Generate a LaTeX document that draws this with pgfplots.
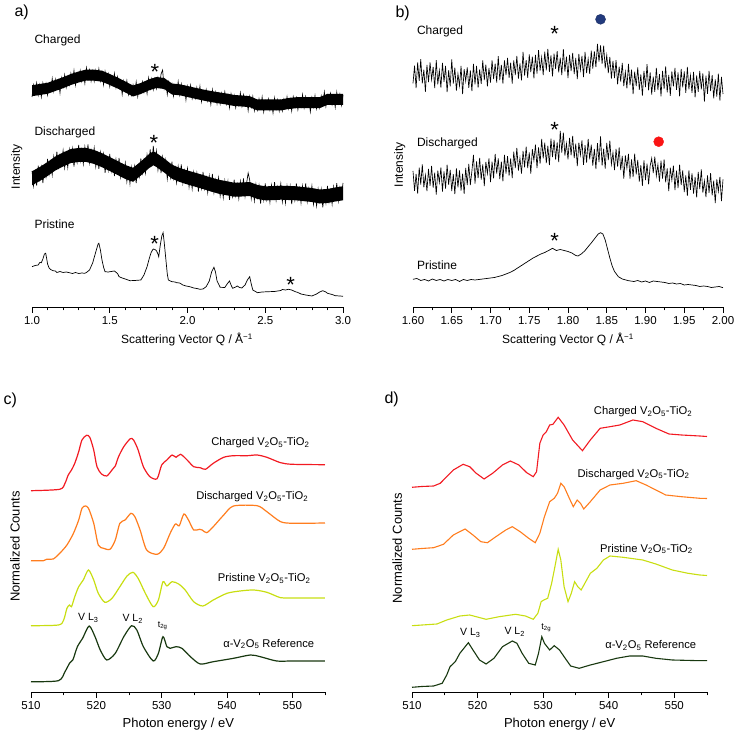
\documentclass[border=0pt]{standalone}
\usepackage{fontspec}
\setmainfont{Liberation Sans}
\usepackage{pgfplots}
\pgfplotsset{compat=1.18}
\definecolor{cred}{RGB}{242,26,34}
\definecolor{corange}{RGB}{255,125,30}
\definecolor{cyg}{RGB}{200,222,18}
\definecolor{cdg}{RGB}{24,56,16}
\definecolor{cnavy}{RGB}{34,58,125}
\definecolor{cdot}{RGB}{250,20,20}
\pgfplotsset{
  panel/.style={scale only axis, clip=false, axis x line=bottom, axis y line=none, ytick=\empty,
    x axis line style={-, line width=0.8pt}, tick align=outside,
    major tick length=6pt, minor tick length=3.5pt,
    every tick/.style={black, line width=0.8pt},
    ticklabel style={font=\fontsize{11.5}{13}\selectfont},
    /pgf/number format/assume math mode=true,
    y filter/.expression={733-y}},
}
\begin{document}
\begin{tikzpicture}[x=1pt,y=1pt]
\useasboundingbox (0,0) rectangle (736,733);
% ---------------- panel a
\begin{axis}[panel, at={(32pt,426pt)}, anchor=south west, width=311pt, height=287pt,
  xmin=1, xmax=3, ymin=426, ymax=713, xtick={1,1.5,2,2.5,3}, minor tick num=4,
  xticklabel style={/pgf/number format/fixed, /pgf/number format/fixed zerofill, /pgf/number format/precision=1}]
% charged core band
\addplot[fill=black, draw=none] coordinates {
(1.00,85.2)(1.05,84)(1.10,82.8)(1.15,80)(1.20,77.2)(1.25,74)(1.30,71.5)(1.35,69.5)(1.40,69.7)(1.45,70.7)(1.50,74)(1.55,77.5)(1.60,81.5)(1.65,85.5)(1.70,83)(1.75,79.5)(1.80,77)(1.85,78)(1.90,83.5)(1.95,84.3)(2.00,86)(2.05,87.8)(2.10,89.5)(2.15,91)(2.20,92.3)(2.25,93.5)(2.30,95)(2.35,95.5)(2.40,96.2)(2.45,99.5)(2.50,99.5)(2.55,99.5)(2.60,99.5)(2.65,98)(2.70,97.2)(2.75,97.2)(2.80,97.2)(2.85,97.2)(2.90,93.8)(2.95,93.8)(3.00,93.8)
(3.00,104.8)(2.95,104.8)(2.90,104.8)(2.85,108.2)(2.80,108.2)(2.75,108.2)(2.70,108.2)(2.65,109)(2.60,110.5)(2.55,110.5)(2.50,110.5)(2.45,110.5)(2.40,107.2)(2.35,106.5)(2.30,106)(2.25,104.5)(2.20,103.3)(2.15,102)(2.10,100.5)(2.05,98.8)(2.00,97)(1.95,95.3)(1.90,94.5)(1.85,89)(1.80,88)(1.75,90.5)(1.70,94)(1.65,96.5)(1.60,92.5)(1.55,88.5)(1.50,85)(1.45,81.7)(1.40,80.7)(1.35,80.5)(1.30,82.5)(1.25,85)(1.20,88.2)(1.15,91)(1.10,93.8)(1.05,95)(1.00,96.2)};
\addplot[black, line width=0.65pt] coordinates {
(1.00,97)(1.01,85)(1.02,93)(1.03,83)(1.04,95)(1.05,85)(1.06,97)(1.07,83)(1.08,91)(1.09,83.5)
(1.10,95)(1.11,85)(1.12,91)(1.13,78.5)(1.14,91)(1.15,79.5)(1.16,88)(1.17,80.5)(1.18,93)(1.19,78)
(1.20,86.7)(1.21,75)(1.22,87.5)(1.23,79)(1.24,85)(1.25,73.5)(1.26,82)(1.27,70.5)(1.28,85)(1.29,73.5)
(1.30,79)(1.31,70.6)(1.32,81.2)(1.33,72.8)(1.34,83.4)(1.35,68)(1.36,79)(1.37,70)(1.38,81.1)(1.39,71.1)
(1.40,81.2)(1.41,70.4)(1.42,78.6)(1.43,68.8)(1.44,81)(1.45,72.2)(1.46,84.8)(1.47,71.5)(1.48,80.2)(1.49,73.8)
(1.50,86.5)(1.51,77.2)(1.52,84.9)(1.53,73.6)(1.54,87.3)(1.55,77)(1.56,86.8)(1.57,80.6)(1.58,94.4)(1.59,81.2)
(1.60,91)(1.61,80.8)(1.62,94.6)(1.63,87.4)(1.64,95.2)(1.65,85)(1.66,93.5)(1.67,82)(1.68,96.5)(1.69,85)
(1.70,90.5)(1.71,81.8)(1.72,92.1)(1.73,83.4)(1.74,93.7)(1.75,78)(1.76,88.5)(1.77,79)(1.78,89.5)(1.79,79)
(1.80,88.5)(1.81,77.5)(1.82,85.5)(1.83,74)(1.84,70)(1.85,88.5)(1.86,81)(1.87,94.5)(1.88,82)(1.89,90.8)
(1.90,84)(1.91,96.2)(1.92,86.3)(1.93,93.5)(1.94,81.6)(1.95,94.8)(1.96,84.1)(1.97,93.5)(1.98,86.8)(1.99,100)
(2.00,86.5)(2.01,95.9)(2.02,85.3)(2.03,98.6)(2.04,91)(2.05,98.3)(2.06,87.6)(2.07,97)(2.08,86.3)(2.09,101.7)
(2.10,91)(2.11,97.3)(2.12,89.6)(2.13,100.9)(2.14,93.2)(2.15,104.5)(2.16,89.8)(2.17,101)(2.18,92.3)(2.19,103.6)
(2.20,93.8)(2.21,104)(2.22,93.3)(2.23,101.5)(2.24,91.8)(2.25,104)(2.26,95.3)(2.27,107.6)(2.28,93.9)(2.29,102.2)
(2.30,95.5)(2.31,107.6)(2.32,97.7)(2.33,104.8)(2.34,92.9)(2.35,106)(2.36,95.1)(2.37,104.3)(2.38,97.4)(2.39,110.6)
(2.40,96.7)(2.41,106.7)(2.42,96.7)(2.43,110.7)(2.44,103)(2.45,110)(2.46,99)(2.47,108)(2.48,97)(2.49,112)
(2.50,101)(2.51,107)(2.52,99)(2.53,110)(2.54,102)(2.55,113)(2.56,98)(2.57,109)(2.58,100)(2.59,111)
(2.60,101)(2.61,110.7)(2.62,99.4)(2.63,107.1)(2.64,96.8)(2.65,108.5)(2.66,99.2)(2.67,110.9)(2.68,96.7)(2.69,104.7)
(2.70,97.7)(2.71,109.7)(2.72,99.7)(2.73,106.7)(2.74,94.7)(2.75,107.7)(2.76,96.7)(2.77,105.7)(2.78,98.7)(2.79,111.7)
(2.80,97.7)(2.81,106.7)(2.82,95.7)(2.83,108.7)(2.84,100.7)(2.85,107.7)(2.86,96)(2.87,104)(2.88,92)(2.89,106.3)
(2.90,95.3)(2.91,101.3)(2.92,93.3)(2.93,104.3)(2.94,96.3)(2.95,107.3)(2.96,92.3)(2.97,103.3)(2.98,94.3)(2.99,105.3)
(3.00,95.3)};
% discharged core band
\addplot[fill=black, draw=none] coordinates {
(1.00,171.3)(1.05,167)(1.10,162)(1.15,156.5)(1.20,152.5)(1.25,149)(1.30,148)(1.35,148)(1.40,150)(1.45,153.2)(1.50,157)(1.55,161)(1.60,165)(1.65,167.8)(1.70,161.5)(1.75,154.5)(1.78,151.3)(1.80,153)(1.85,158.5)(1.90,164.7)(1.95,168)(2.00,170.5)(2.05,172.7)(2.10,175)(2.15,177.5)(2.20,179.7)(2.25,181.2)(2.30,182.7)(2.35,182.5)(2.40,182)(2.45,185)(2.50,186.3)(2.55,186.2)(2.60,185.7)(2.65,186)(2.70,186.3)(2.75,187.2)(2.80,188)(2.85,189.5)(2.90,189)(2.95,187.5)(3.00,186.3)
(3.00,200.3)(2.95,201.5)(2.90,203)(2.85,203.5)(2.80,202)(2.75,201.2)(2.70,200.3)(2.65,200)(2.60,199.7)(2.55,200.2)(2.50,200.3)(2.45,199)(2.40,196)(2.35,196.5)(2.30,196.7)(2.25,195.2)(2.20,193.7)(2.15,191.5)(2.10,189)(2.05,186.7)(2.00,184.5)(1.95,182)(1.90,178.7)(1.85,172.5)(1.80,167)(1.78,165.3)(1.75,168.5)(1.70,175.5)(1.65,181.8)(1.60,179)(1.55,175)(1.50,171)(1.45,167.2)(1.40,164)(1.35,162)(1.30,162)(1.25,163)(1.20,166.5)(1.15,170.5)(1.10,176)(1.05,181)(1.00,185.3)};
\addplot[black, line width=0.65pt] coordinates {
(1.00,171)(1.01,186)(1.02,172.5)(1.03,185.6)(1.04,165.7)(1.05,179)(1.06,167)(1.07,183)(1.08,168)(1.09,177)
(1.10,159)(1.11,174)(1.12,162)(1.13,174.8)(1.14,156.6)(1.15,167.5)(1.16,151.7)(1.17,169)(1.18,155)(1.19,163.3)
(1.20,150.5)(1.21,167.8)(1.22,154)(1.23,167.4)(1.24,149.7)(1.25,161)(1.26,148.8)(1.27,166.6)(1.28,152.4)(1.29,162.2)
(1.30,145)(1.31,161)(1.32,150)(1.33,164)(1.34,147)(1.35,159)(1.36,144.4)(1.37,162.8)(1.38,150.2)(1.39,159.6)
(1.40,148)(1.41,166.6)(1.42,154.2)(1.43,168.9)(1.44,152.5)(1.45,165.2)(1.46,154)(1.47,172.8)(1.48,159.5)(1.49,170.2)
(1.50,154)(1.51,171)(1.52,161)(1.53,176)(1.54,159.5)(1.55,172)(1.56,158)(1.57,177)(1.58,165)(1.59,174.5)
(1.60,163)(1.61,181.6)(1.62,169.2)(1.63,183.8)(1.64,167.4)(1.65,179.8)(1.66,166.5)(1.67,183.2)(1.68,168)(1.69,176.8)
(1.70,158.5)(1.71,173)(1.72,160.5)(1.73,173)(1.74,155)(1.75,165.5)(1.76,149.5)(1.77,166.4)(1.78,146)(1.79,162)
(1.80,151)(1.81,170)(1.82,158)(1.83,173)(1.84,157)(1.85,170.5)(1.86,160)(1.87,179)(1.88,166)(1.89,177.5)
(1.90,161.7)(1.91,178.4)(1.92,168)(1.93,182.7)(1.94,166.4)(1.95,179)(1.96,164.5)(1.97,183)(1.98,170.5)(1.99,180)
(2.00,168.5)(2.01,187)(2.02,174.4)(2.03,188.8)(2.04,172.3)(2.05,184.7)(2.06,173.2)(2.07,191.6)(2.08,178)(2.09,188.5)
(2.10,172)(2.11,188.5)(2.12,178)(2.13,192.5)(2.14,176)(2.15,188.5)(2.16,174)(2.17,192.4)(2.18,179.9)(2.19,189.3)
(2.20,177.7)(2.21,196)(2.22,183.3)(2.23,197.6)(2.24,180.9)(2.25,193.2)(2.26,181.5)(2.27,199.8)(2.28,186.1)(2.29,196.4)
(2.30,179.7)(2.31,195.7)(2.32,184.6)(2.33,198.6)(2.34,181.5)(2.35,193.5)(2.36,178.4)(2.37,196.3)(2.38,183.2)(2.39,173)
(2.40,180)(2.41,198.6)(2.42,186.2)(2.43,200.8)(2.44,184.4)(2.45,197)(2.46,185.3)(2.47,203.6)(2.48,189.9)(2.49,200.1)
(2.50,183.3)(2.51,199.3)(2.52,188.3)(2.53,202.3)(2.54,185.3)(2.55,197.2)(2.56,182.2)(2.57,200.1)(2.58,187)(2.59,196)
(2.60,183.7)(2.61,201.8)(2.62,188.8)(2.63,202.9)(2.64,186)(2.65,198)(2.66,186.1)(2.67,204.2)(2.68,190.2)(2.69,200.3)
(2.70,183.3)(2.71,199.5)(2.72,188.7)(2.73,202.8)(2.74,186)(2.75,198.2)(2.76,183.3)(2.77,201.5)(2.78,188.7)(2.79,197.8)
(2.80,186)(2.81,204.3)(2.82,191.6)(2.83,205.9)(2.84,189.2)(2.85,201.5)(2.86,189.4)(2.87,207.3)(2.88,193.2)(2.89,203.1)
(2.90,186)(2.91,201.7)(2.92,190.4)(2.93,204.1)(2.94,186.8)(2.95,198.5)(2.96,183.2)(2.97,200.9)(2.98,187.6)(2.99,196.5)
(3.00,183)};
\addplot[black, line width=0.7pt] coordinates {
(1.00,266.7)(1.02,265.5)(1.04,265)(1.05,262.5)(1.06,262.7)(1.07,259)(1.08,254)(1.088,253.3)(1.095,259)(1.10,264)
(1.11,268)(1.12,269.5)(1.135,270.7)(1.15,271)(1.16,272.5)(1.18,271.5)(1.20,272.5)(1.22,272)(1.24,272.7)(1.26,273.5)
(1.28,272.5)(1.30,273.5)(1.32,273)(1.34,273.3)(1.35,272.5)(1.37,270)(1.39,263)(1.41,252)(1.425,244)(1.43,243.3)
(1.44,250)(1.45,260)(1.46,267)(1.47,271.7)(1.49,272)(1.51,271.5)(1.53,271)(1.55,273.5)(1.56,276.7)(1.58,278)
(1.60,279)(1.63,280.7)(1.66,280.5)(1.70,280)(1.72,275)(1.74,266.7)(1.755,258)(1.765,253)(1.775,250)(1.78,249)
(1.79,249.5)(1.80,250.7)(1.81,254)(1.815,256.7)(1.825,245)(1.835,236)(1.843,232.7)(1.85,242)(1.86,258)(1.87,274)
(1.877,280)(1.89,281)(1.90,281.7)(1.92,282)(1.93,282.7)(1.95,283)(1.97,285)(1.99,286)(2.01,286.5)(2.04,288)
(2.06,288.5)(2.08,289.3)(2.10,289)(2.12,286.7)(2.14,281)(2.155,272)(2.17,267.3)(2.18,272)(2.19,281)(2.21,287.3)
(2.24,287.5)(2.255,284)(2.27,281)(2.28,285)(2.29,288.3)(2.31,287)(2.32,286)(2.335,287.5)(2.35,288)(2.37,285)
(2.385,280)(2.40,276.7)(2.41,284)(2.42,290)(2.45,292.7)(2.48,292)(2.52,291.7)(2.56,291.5)(2.60,290.5)(2.61,289.5)
(2.63,290)(2.65,289.3)(2.67,290)(2.69,291.5)(2.71,292.5)(2.73,294)(2.76,295)(2.80,296)(2.83,294)(2.85,292)
(2.87,290.7)(2.89,292)(2.90,293.3)(2.93,294.5)(2.95,295.7)(2.98,296)(3.00,296.3)};
\end{axis}
% ---------------- panel b
\begin{axis}[panel, at={(413pt,426pt)}, anchor=south west, width=310pt, height=287pt,
  xmin=1.6, xmax=2.0, ymin=426, ymax=713, xtick={1.6,1.65,...,2.01}, minor tick num=1,
  xticklabel style={/pgf/number format/fixed, /pgf/number format/fixed zerofill, /pgf/number format/precision=2}]
\addplot[black, line width=0.65pt] coordinates {
(1.600,83.3)(1.602,65.7)(1.604,88.1)(1.606,62.4)(1.608,80.8)(1.610,59.2)(1.612,83.4)(1.614,69.6)(1.616,91.8)(1.618,65)
(1.620,82.2)(1.622,62.4)(1.624,79.6)(1.626,66.8)(1.628,88)(1.630,60.1)(1.632,84.3)(1.634,70.5)(1.636,87.7)(1.638,62.8)
(1.640,81.9)(1.642,66)(1.644,92.1)(1.646,70.2)(1.648,86.3)(1.650,59.4)(1.652,83.5)(1.654,67.6)(1.656,90.7)(1.658,73.8)
(1.660,85.9)(1.662,66)(1.664,94.1)(1.666,69.2)(1.668,81.2)(1.670,67.3)(1.672,87.9)(1.674,70.5)(1.676,91.2)(1.678,63.8)
(1.680,84.4)(1.682,66)(1.684,87.6)(1.686,69.3)(1.688,83.9)(1.690,60.5)(1.692,80.1)(1.694,64.7)(1.696,86.4)(1.698,68)
(1.700,82.6)(1.702,60.3)(1.704,79)(1.706,63.7)(1.708,82.5)(1.710,56.2)(1.712,80)(1.714,64.8)(1.716,83.6)(1.718,60.4)
(1.720,75.2)(1.722,58)(1.724,77.8)(1.726,62.7)(1.728,83.5)(1.730,60.3)(1.732,75.1)(1.734,55.9)(1.736,78.7)(1.738,63.5)
(1.740,80.3)(1.742,51.9)(1.744,75.5)(1.746,60.2)(1.748,77.8)(1.750,54.4)(1.752,72)(1.754,56.6)(1.756,78.3)(1.758,54.9)
(1.760,73.5)(1.762,50.1)(1.764,70.7)(1.766,57.4)(1.768,75)(1.770,51.6)(1.772,70.4)(1.774,48.8)(1.776,71.8)(1.778,55.3)
(1.780,76.4)(1.782,53.7)(1.784,68.9)(1.786,51.2)(1.788,72.4)(1.790,57.7)(1.792,75)(1.794,49.2)(1.796,71.5)(1.798,56.7)
(1.800,78)(1.802,55)(1.804,71)(1.806,53)(1.808,74)(1.810,58)(1.812,79)(1.814,54)(1.816,70)(1.818,56)
(1.820,77)(1.822,52)(1.824,73)(1.826,59)(1.828,73.8)(1.830,50.6)(1.832,68.5)(1.834,51.3)(1.836,67.1)(1.838,43.9)
(1.840,61.7)(1.842,45.5)(1.844,63.8)(1.846,45.6)(1.848,68.4)(1.850,55.2)(1.852,73)(1.854,56.8)(1.856,78.7)(1.858,60.9)
(1.860,78)(1.862,60.2)(1.864,84.4)(1.866,66.6)(1.868,81.7)(1.870,62.9)(1.872,86.1)(1.874,71.9)(1.876,88.4)(1.878,63.8)
(1.880,85.2)(1.882,69.7)(1.884,94.1)(1.886,71.6)(1.888,86)(1.890,67.5)(1.892,89.9)(1.894,74.4)(1.896,95.7)(1.898,70.8)
(1.900,87)(1.902,64.1)(1.904,90.3)(1.906,72.4)(1.908,94.5)(1.910,76.7)(1.912,91.8)(1.914,67.9)(1.916,90.1)(1.918,74.2)
(1.920,96.3)(1.922,71)(1.924,88.8)(1.926,66.5)(1.928,92.3)(1.930,75)(1.932,95.8)(1.934,71.5)(1.936,86.3)(1.938,68)
(1.940,89.8)(1.942,72.5)(1.944,96.3)(1.946,69)(1.948,87.3)(1.950,71.5)(1.952,92.8)(1.954,67)(1.956,89.3)(1.958,75.5)
(1.960,92.8)(1.962,72)(1.964,97.3)(1.966,75.5)(1.968,91.8)(1.970,71)(1.972,89.3)(1.974,73.4)(1.976,101.5)(1.978,75.7)
(1.980,93.8)(1.982,70.9)(1.984,91)(1.986,75.2)(1.988,98.3)(1.990,79.4)(1.992,96.5)(1.994,73.6)(1.996,100.7)(1.998,76.9)
(2.000,94)};
\addplot[black, line width=0.65pt] coordinates {
(1.600,171)(1.602,190.9)(1.604,173.8)(1.606,193.7)(1.608,167.6)(1.610,184.5)(1.612,164.4)(1.614,187.3)(1.616,175.2)(1.618,191.1)
(1.620,169)(1.622,185.9)(1.624,165.8)(1.626,187.7)(1.628,172.7)(1.630,194.6)(1.632,170.6)(1.634,182.5)(1.636,167.5)(1.638,191.5)
(1.640,171.5)(1.642,188.6)(1.644,164.7)(1.646,184.8)(1.648,169.9)(1.650,191)(1.652,174.1)(1.654,194.2)(1.656,168.3)(1.658,187.4)
(1.660,170.5)(1.662,190.6)(1.664,173.7)(1.666,193.8)(1.668,167.9)(1.670,185)(1.672,164)(1.674,185)(1.676,171)(1.678,155)
(1.680,183.7)(1.682,161.4)(1.684,178.2)(1.686,157.9)(1.688,179.7)(1.690,164.4)(1.692,186.1)(1.694,161.8)(1.696,173.6)(1.698,158.3)
(1.700,182)(1.702,161.7)(1.704,178.4)(1.706,154)(1.708,173.7)(1.710,158.4)(1.712,179)(1.714,161.6)(1.716,181.3)(1.718,154.9)
(1.720,173.5)(1.722,156.1)(1.724,175.7)(1.726,158.4)(1.728,178)(1.730,151.6)(1.732,168.2)(1.734,147.8)(1.736,170.5)(1.738,158.1)
(1.740,173.7)(1.742,151)(1.744,167.4)(1.746,146.7)(1.748,168.1)(1.750,152.4)(1.752,173.7)(1.754,149.1)(1.756,160.4)(1.758,144.7)
(1.760,168)(1.762,147.4)(1.764,163.7)(1.766,139)(1.768,158.4)(1.770,142.7)(1.772,163.2)(1.774,145.7)(1.776,165.2)(1.778,138.7)
(1.780,157.2)(1.782,139.9)(1.784,159.6)(1.786,142.4)(1.788,162.1)(1.790,130.8)(1.792,152.7)(1.794,132.6)(1.796,155.5)(1.798,143.5)
(1.800,159.4)(1.802,137.9)(1.804,155.3)(1.806,135.8)(1.808,158.2)(1.810,143.7)(1.812,166.1)(1.814,142.6)(1.816,155)(1.818,140.5)
(1.820,164.9)(1.822,145.2)(1.824,162.6)(1.826,138.9)(1.828,159.3)(1.830,144.6)(1.832,165.7)(1.834,148.8)(1.836,169)(1.838,143.1)
(1.840,162.2)(1.842,136.3)(1.844,165.5)(1.846,148.6)(1.848,168.7)(1.850,142.9)(1.852,160)(1.854,140.6)(1.856,164.2)(1.858,152.8)
(1.860,170)(1.862,148.8)(1.864,166.6)(1.866,147.4)(1.868,170.2)(1.870,156)(1.872,178.7)(1.874,155.4)(1.876,168.2)(1.878,154)
(1.880,178.6)(1.882,159.3)(1.884,177)(1.886,153.6)(1.888,174.3)(1.890,160)(1.892,181.6)(1.894,165.2)(1.896,185.8)(1.898,160.4)
(1.900,180)(1.902,163.7)(1.904,184.3)(1.906,165.8)(1.908,158.3)(1.910,173)(1.912,156.7)(1.914,175.7)(1.916,164.7)(1.918,181.7)
(1.920,160.7)(1.922,178.6)(1.924,159.5)(1.926,182.4)(1.928,168.3)(1.930,191.2)(1.932,167.7)(1.934,180.2)(1.936,165.6)(1.938,190.1)
(1.940,170.6)(1.942,188.1)(1.944,164.6)(1.946,185)(1.948,170.5)(1.950,192)(1.952,175.5)(1.954,195.9)(1.956,170.4)(1.958,189.8)
(1.960,173.3)(1.962,193.7)(1.964,177)(1.966,197.4)(1.968,171.8)(1.970,189.1)(1.972,169.4)(1.974,192.7)(1.976,181)(1.978,197.2)
(1.980,175.5)(1.982,192.8)(1.984,173.1)(1.986,195.4)(1.988,180.7)(1.990,203)(1.992,179.3)(1.994,191.5)(1.996,176.8)(1.998,201)
(2.000,179.3)};
\addplot[black, line width=0.7pt] coordinates {
(1.600,279.3)(1.605,278.5)(1.610,280.5)(1.615,279.5)(1.620,281)(1.625,279)(1.630,280.5)(1.635,279.5)(1.640,281)(1.645,279.5)
(1.650,280.5)(1.655,279.5)(1.660,281.5)(1.665,279.5)(1.670,280.5)(1.675,279.5)(1.680,280)(1.685,279.5)(1.690,279)(1.695,278.5)
(1.700,278)(1.705,277.5)(1.710,276.5)(1.715,275.5)(1.720,274)(1.725,272.5)(1.730,270.5)(1.735,268)(1.740,265.5)(1.745,263)
(1.750,260.5)(1.755,258)(1.760,256)(1.765,254)(1.770,252.5)(1.775,250.5)(1.780,248.3)(1.785,250.5)(1.790,249.5)(1.795,250.5)
(1.800,251.5)(1.805,253)(1.810,255.5)(1.813,256)(1.818,253.5)(1.822,250.5)(1.826,246.7)(1.830,243)(1.835,238)(1.839,234)
(1.842,232.7)(1.845,234)(1.848,240)(1.851,249)(1.854,258)(1.857,266)(1.860,271.5)(1.865,276.7)(1.870,279)(1.878,280.7)
(1.885,281.5)(1.890,280.5)(1.895,282)(1.900,281)(1.905,282.5)(1.910,281)(1.917,281.7)(1.925,282.5)(1.930,283.5)(1.935,283)
(1.940,284)(1.945,283.5)(1.950,285)(1.955,284.5)(1.960,285)(1.965,285.5)(1.970,286.5)(1.975,286)(1.980,286.5)(1.985,287.5)
(1.990,287)(1.995,286.5)(2.000,287.7)};
\addplot[only marks, mark=*, mark size=5pt, cnavy, mark options={draw=cnavy!80!black}] coordinates {(1.842,19.3)};
\addplot[only marks, mark=*, mark size=5pt, cdot] coordinates {(1.917,141.7)};
\end{axis}
% ---------------- panel c
\begin{axis}[panel, at={(31pt,41pt)}, anchor=south west, width=294pt, height=272pt,
  xmin=510, xmax=555, ymin=41, ymax=313, xtick={510,520,...,550}, minor xtick={515,525,...,555}]
\addplot[cred, line width=1.2pt, smooth, tension=0.45] coordinates {
(510,490.7)(514.4,489.3)(515.2,483.3)(515.7,475)(516.2,470)(516.7,463.3)(517.3,451.7)(517.8,440)(518.5,435.3)(519,437.3)
(519.6,450)(520.1,466.7)(520.8,474)(521.6,476)(522.4,470)(522.9,466)(523.4,456.7)(524.2,446.7)(525.2,438.7)(525.7,440)
(526.4,450)(527.2,466.7)(528.2,476.7)(529.3,478.7)(530,465)(530.8,460)(531.6,455)(532.2,457.3)(532.9,454.3)(533.9,460)
(534.9,466.7)(535.9,467.7)(536.7,469.3)(537.9,463.3)(539.5,457.3)(541,455.7)(543.1,455.7)(544.6,455)(546.1,457.3)(548.2,462.7)
(550,464.3)(555,464.7)};
\addplot[corange, line width=1.2pt, smooth, tension=0.45] coordinates {
(510,560.7)(511.9,560.7)(512.4,559.3)(513.4,559)(514.4,553.3)(515.5,545)(516.5,533.3)(517.3,520)(517.8,508.3)(518.3,506)
(518.8,508.3)(519.6,523.3)(520.3,545)(521.1,548.3)(522.1,549.3)(522.9,540)(523.6,523.3)(524.4,520)(525.3,513.3)(525.9,516.7)
(526.7,530)(527.7,550)(529.3,554.3)(530.3,548.3)(531.3,533.3)(532.1,524)(532.7,525.7)(533.4,514)(534.1,520)(534.9,530)
(535.8,529.3)(536.2,530)(536.9,532.7)(537.9,526.7)(539.5,515)(541,506)(544.6,505.7)(546.1,511.7)(548.2,521.7)(550.2,523.3)
(555,523)};
\addplot[cyg, line width=1.2pt, smooth, tension=0.45] coordinates {
(510,625.7)(514.2,625)(515,620)(515.5,608.3)(515.9,605)(516.2,606.7)(516.7,596.7)(517.3,586.7)(518,580)(518.8,570)
(519.6,580)(520.3,593.3)(521.3,602.3)(522.4,598.3)(523.6,586.7)(524.7,576)(525.6,572.3)(526.4,578.3)(527.5,593.3)(528.7,606.7)
(529.5,600)(530.2,581.7)(530.8,586)(531.6,581.7)(532.6,584)(533.6,590)(534.9,601.7)(536.3,606)(537.9,600)(540,593.3)
(542,591)(544.1,590)(546.1,592.3)(548.2,597.7)(550,598)(555,598)};
\addplot[cdg, line width=1.2pt, smooth, tension=0.45] coordinates {
(510,681.7)(514.2,680.7)(515.2,671.7)(515.9,663.3)(516.4,660)(517.1,646.7)(517.9,638.3)(518.9,626)(519.8,636.7)(520.6,650)
(521.6,660)(522.9,653.3)(524.2,636.7)(525.4,625.7)(526.2,630)(527.2,646.7)(528.7,661)(529.5,653.3)(530.2,636.7)(530.8,646.7)
(531.3,648.3)(532.2,646.7)(533.1,648.3)(534.4,656.7)(535.9,664)(537.9,661.7)(541,658.3)(543.6,655)(545.1,656.7)(547.6,661)
(550,661)(555,661)};
\end{axis}
% ---------------- panel d
\begin{axis}[panel, at={(412pt,41pt)}, anchor=south west, width=295pt, height=272pt,
  xmin=510, xmax=555, ymin=41, ymax=313, xtick={510,520,...,550}, minor xtick={515,525,...,555}]
\addplot[cred, line width=1.1pt] coordinates {
(510,487.3)(511.5,486.5)(513.3,486)(514.3,483.3)(515.3,476.7)(516.3,470)(517.8,464.3)(518.8,466.7)(519.8,473.3)(521,479)
(522.3,473.3)(523.8,465)(525,461)(526.3,465)(527.5,472.7)(528.5,476.7)(529,471.7)(529.5,443.3)(530,435)(530.5,431.7)
(531,425)(531.5,424.3)(532.3,417.3)(533.2,425)(534.5,440)(536,450.7)(537.2,440)(538.7,428.3)(540.2,426.7)(541.7,425)
(543.7,420)(545.2,421.7)(547.2,428.3)(549.2,434)(551.1,435)(553.9,436)(555,436.5)};
\addplot[corange, line width=1.1pt] coordinates {
(510,549.3)(511.5,548.5)(513.3,547.7)(514.8,544.3)(516.3,535)(518.1,529)(519.3,535)(520.5,541.7)(521.5,542.7)(522.8,536.7)
(524.3,530)(525.3,526.7)(526.5,531.7)(527.8,538.3)(528.8,542.7)(529.5,533.3)(530.2,516.7)(531,501.7)(531.7,498.3)(532.2,493.3)
(532.7,483.3)(533.2,486.7)(534,498.3)(534.6,506.7)(535.2,500)(535.7,503.3)(536.2,509)(537.2,501.7)(538.7,490)(540.2,485)
(542.2,483.3)(544.2,480.7)(545.7,485)(547.2,490)(548.7,495)(551.1,496.7)(553.9,498.3)(555,498.5)};
\addplot[cyg, line width=1.1pt] coordinates {
(510,625.7)(513.8,624)(515.3,620)(517.3,616)(518.8,615)(521.3,619.3)(523.3,616.7)(525.8,614.3)(527.3,616)(528.5,619.3)
(529.2,613.3)(529.7,601.7)(530.1,600)(530.7,598.3)(531.3,583.3)(531.8,566.7)(532.3,549.3)(532.7,560)(533.2,586.7)(533.8,601.7)
(534.3,593.3)(534.8,581.7)(535.3,586.7)(535.8,590)(536.5,581.7)(537.2,573.3)(538.2,568.3)(539.2,560)(540.2,556)(542.2,557.3)
(545.2,560)(547.2,564)(549.7,570)(552.1,573.3)(553.9,575)(555,575.5)};
\addplot[cdg, line width=1.1pt] coordinates {
(510,687.3)(511.5,686.5)(513.3,686)(514.6,683.3)(515.3,675)(515.8,666.7)(516.6,661.7)(517.3,653.3)(518.6,642.7)(519.3,650)
(520.3,660)(521.3,664)(522.5,658.3)(523.8,646.7)(525.3,641)(526,643.3)(526.8,653.3)(527.8,663.3)(528.8,665)(529.3,653.3)
(529.8,636.7)(530.2,643.3)(531,650)(531.7,645.7)(532.5,650)(533.2,656.7)(534.2,666)(535.5,668.3)(537.2,665)(539.2,661.7)
(541.2,658.3)(543.2,656)(545.2,656)(547.2,658.3)(549.7,660)(553.9,660.7)(555,660.7)};
\end{axis}
% ---------------- labels
\begin{scope}[font=\fontsize{12}{14}\selectfont]
\node[anchor=west, font=\fontsize{16}{18}\selectfont] at (11,721) {a)};
\node[anchor=west, font=\fontsize{16}{18}\selectfont] at (392,720) {b)};
\node[anchor=west, font=\fontsize{16}{18}\selectfont] at (0,333) {c)};
\node[anchor=west, font=\fontsize{16}{18}\selectfont] at (381,334) {d)};
\node[anchor=west] at (31,692.3) {Charged};
\node[anchor=west] at (31,600.7) {Discharged};
\node[anchor=west] at (31,509) {Pristine};
\node[rotate=90] at (16.7,566.3) {Intensity};
\node[anchor=west] at (413.5,701.3) {Charged};
\node[anchor=west] at (413.5,589.7) {Discharged};
\node[anchor=west] at (413.5,468) {Pristine};
\node[rotate=90] at (399.7,568) {Intensity};
\node at (187,393) {Scattering Vector Q / Å\textsuperscript{−1}};
\node at (568,393) {Scattering Vector Q / Å\textsuperscript{−1}};
\end{scope}
\begin{scope}[font=\fontsize{22}{24}\selectfont]
\node[anchor=base, inner sep=0pt] at (155,653.5) {*};
\node[anchor=base, inner sep=0pt] at (154,582.2) {*};
\node[anchor=base, inner sep=0pt] at (154.7,481.9) {*};
\node[anchor=base, inner sep=0pt] at (290.7,440.2) {*};
\node[anchor=base, inner sep=0pt] at (554.7,691.9) {*};
\node[anchor=base, inner sep=0pt] at (554.7,595.2) {*};
\node[anchor=base, inner sep=0pt] at (554.7,484.2) {*};
\end{scope}
\begin{scope}[font=\fontsize{13}{15}\selectfont]
\node[rotate=90] at (15,186.3) {Normalized Counts};
\node[rotate=90] at (397.3,184.7) {Normalized Counts};
\node at (178.3,9) {Photon energy / eV};
\node at (559.7,9) {Photon energy / eV};
\end{scope}
\begin{scope}[font=\fontsize{11.2}{13}\selectfont]
\node[anchor=base east] at (313,287.3) {Charged V\textsubscript{2}O\textsubscript{5}-TiO\textsubscript{2}};
\node[anchor=base east] at (311.7,233) {Discharged V\textsubscript{2}O\textsubscript{5}-TiO\textsubscript{2}};
\node[anchor=base east] at (314,151.3) {Pristine V\textsubscript{2}O\textsubscript{5}-TiO\textsubscript{2}};
\node[anchor=base east] at (317.7,85.7) {α-V\textsubscript{2}O\textsubscript{5} Reference};
\node[anchor=base east] at (695.7,318) {Charged V\textsubscript{2}O\textsubscript{5}-TiO\textsubscript{2}};
\node[anchor=base east] at (693,255.7) {Discharged V\textsubscript{2}O\textsubscript{5}-TiO\textsubscript{2}};
\node[anchor=base east] at (696.3,180.7) {Pristine V\textsubscript{2}O\textsubscript{5}-TiO\textsubscript{2}};
\node[anchor=base east] at (699.7,84) {α-V\textsubscript{2}O\textsubscript{5} Reference};
\end{scope}
\begin{scope}[font=\fontsize{10.5}{12}\selectfont]
\node[anchor=base] at (88.3,112.3) {V L\textsubscript{3}};
\node[anchor=base] at (132.7,111.3) {V L\textsubscript{2}};
\node[anchor=base] at (470.3,97) {V L\textsubscript{3}};
\node[anchor=base] at (514.7,98) {V L\textsubscript{2}};
\end{scope}
\begin{scope}[font=\fontsize{9}{10}\selectfont]
\node[anchor=base] at (162.7,105.7) {t\textsubscript{2g}};
\node[anchor=base] at (546.3,103.7) {t\textsubscript{2g}};
\end{scope}
\end{tikzpicture}
\end{document}
